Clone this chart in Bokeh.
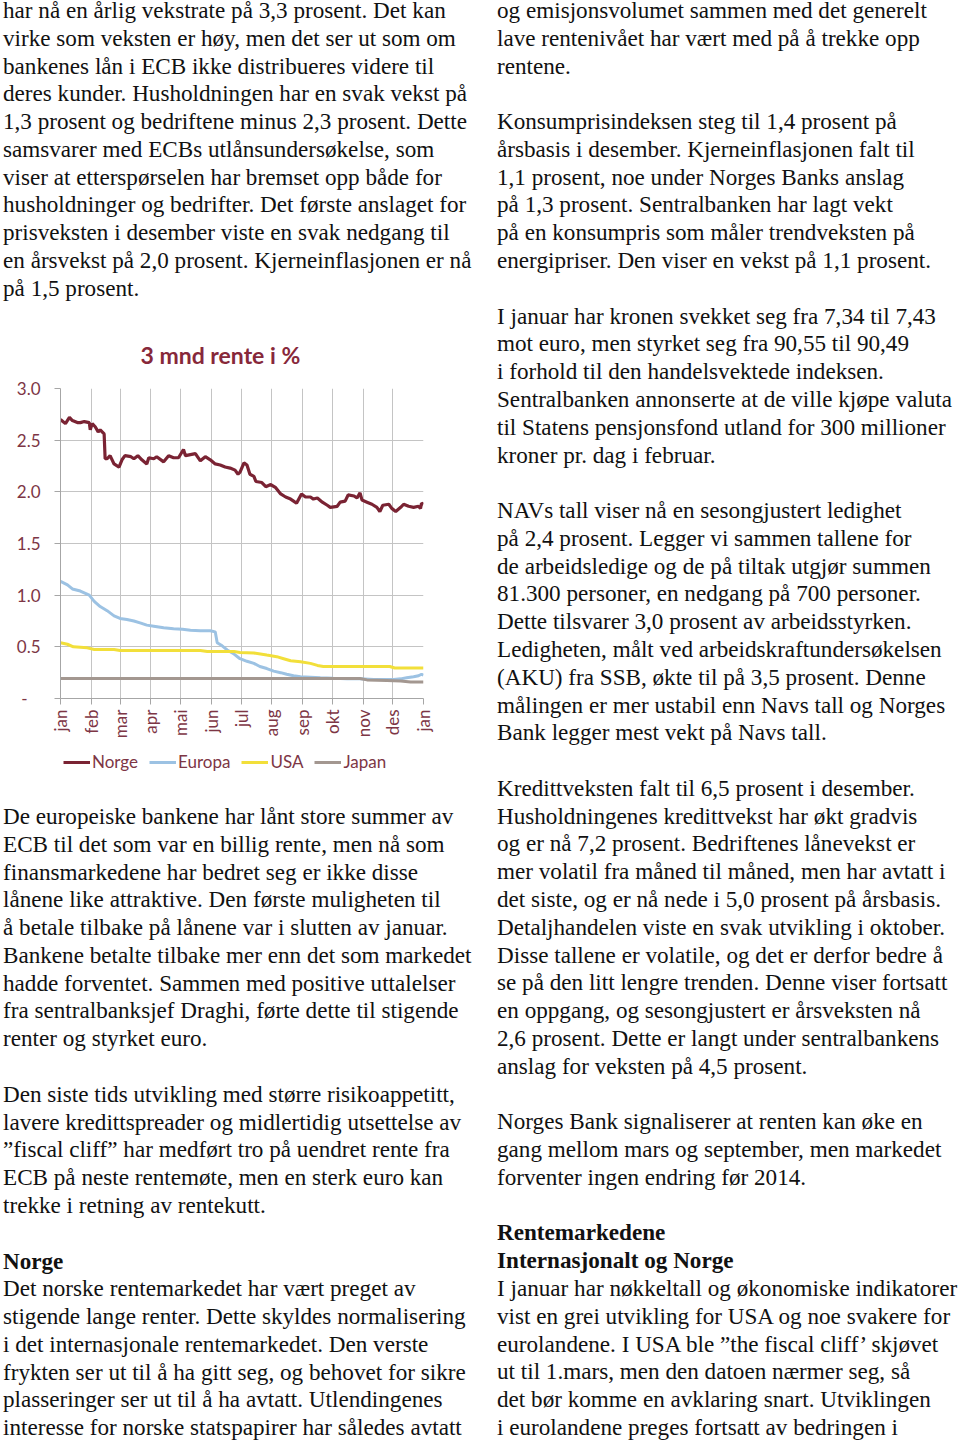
from html import escape
from bokeh.plotting import figure
from bokeh.models import Range1d, FixedTicker, Legend, LegendItem, Div, NumeralTickFormatter
from bokeh.layouts import column, row
from bokeh.embed import file_html
from bokeh.resources import INLINE

# ---------------- chart data ----------------
month_labels = ["jan", "feb", "mar", "apr", "mai", "jun", "jul", "aug", "sep", "okt", "nov", "des", "jan"]
month_days = [0, 31, 60, 91, 121, 152, 182, 213, 244, 274, 305, 335, 366]
y_ticks = [0, 0.5, 1.0, 1.5, 2.0, 2.5, 3.0]

norge_day = [0, 5, 9, 12, 17, 20, 24, 29, 30, 32, 35, 38, 40, 44, 45, 47, 50, 54, 59, 62,
             65, 71, 74, 78, 82, 87, 89, 94, 97, 104, 109, 114, 119, 124, 126, 131, 136, 141, 146, 151,
             156, 161, 166, 171, 176, 179, 181, 185, 188, 191, 195, 197, 203, 207, 212, 217, 222, 227, 232, 235,
             238, 243, 247, 252, 255, 259, 264, 269, 272, 279, 282, 287, 290, 296, 299, 302, 304, 309, 314, 319,
             322, 325, 331, 334, 338, 343, 346, 351, 356, 361, 363, 364, 366]
norge_val = [2.70, 2.66, 2.72, 2.69, 2.67, 2.67, 2.68, 2.67, 2.60, 2.66, 2.63, 2.58, 2.60, 2.56, 2.32, 2.32, 2.35, 2.27, 2.24, 2.31,
             2.35, 2.34, 2.32, 2.35, 2.31, 2.27, 2.33, 2.32, 2.34, 2.29, 2.35, 2.33, 2.33, 2.41, 2.35, 2.36, 2.37, 2.30, 2.34, 2.31,
             2.27, 2.26, 2.24, 2.23, 2.21, 2.17, 2.19, 2.28, 2.26, 2.17, 2.15, 2.10, 2.09, 2.05, 2.07, 2.04, 1.98, 1.95, 1.93, 1.91,
             1.89, 1.98, 1.95, 1.95, 1.93, 1.94, 1.90, 1.87, 1.85, 1.86, 1.90, 1.91, 1.97, 1.96, 1.94, 1.99, 1.92, 1.90, 1.88, 1.85,
             1.81, 1.87, 1.88, 1.84, 1.81, 1.85, 1.88, 1.86, 1.85, 1.86, 1.84, 1.89, 1.88]

europa_day = [0, 7, 12, 20, 29, 34, 40, 47, 54, 60, 67, 74, 81, 87, 94, 104, 114, 123, 131, 141,
              151, 156, 158, 163, 168, 175, 181, 188, 195, 201, 208, 215, 222, 228, 235, 242, 252, 262, 275, 289,
              302, 316, 329, 336, 343, 349, 356, 361, 364, 366]
europa_val = [1.135, 1.10, 1.06, 1.04, 1.00, 0.94, 0.89, 0.85, 0.80, 0.775, 0.765, 0.75, 0.73, 0.71, 0.70, 0.685, 0.675, 0.67, 0.66, 0.655,
              0.655, 0.645, 0.54, 0.51, 0.47, 0.43, 0.385, 0.36, 0.34, 0.31, 0.29, 0.265, 0.25, 0.235, 0.22, 0.21, 0.205, 0.20, 0.195, 0.19,
              0.19, 0.185, 0.183, 0.183, 0.19, 0.20, 0.21, 0.22, 0.235, 0.225]

usa_day = [0, 7, 13, 27, 34, 54, 60, 91, 141, 148, 175, 181, 195, 208, 218, 225, 232, 242, 252, 259,
           265, 275, 302, 332, 337, 366]
usa_val = [0.54, 0.525, 0.50, 0.49, 0.475, 0.475, 0.465, 0.465, 0.465, 0.455, 0.455, 0.445, 0.44, 0.42, 0.405, 0.385, 0.365, 0.355, 0.34, 0.32,
           0.31, 0.31, 0.31, 0.31, 0.295, 0.295]

japan_day = [0, 302, 309, 329, 343, 353, 366]
japan_val = [0.193, 0.193, 0.18, 0.175, 0.17, 0.16, 0.16]

series_names = ["Norge", "Europa", "USA", "Japan"]
series_colors = ["#7a2333", "#9cc2e3", "#f2df3a", "#a39790"]
series_days = [norge_day, europa_day, usa_day, japan_day]
series_vals = [norge_val, europa_val, usa_val, japan_val]

# ---------------- text ----------------
left_top = [
    "har nå en årlig vekstrate på 3,3 prosent. Det kan",
    "virke som veksten er høy, men det ser ut som om",
    "bankenes lån i ECB ikke distribueres videre til",
    "deres kunder. Husholdningen har en svak vekst på",
    "1,3 prosent og bedriftene minus 2,3 prosent. Dette",
    "samsvarer med ECBs utlånsundersøkelse, som",
    "viser at etterspørselen har bremset opp både for",
    "husholdninger og bedrifter. Det første anslaget for",
    "prisveksten i desember viste en svak nedgang til",
    "en årsvekst på 2,0 prosent. Kjerneinflasjonen er nå",
    "på 1,5 prosent.",
]
left_bottom = [
    "De europeiske bankene har lånt store summer av",
    "ECB til det som var en billig rente, men nå som",
    "finansmarkedene har bedret seg er ikke disse",
    "lånene like attraktive. Den første muligheten til",
    "å betale tilbake på lånene var i slutten av januar.",
    "Bankene betalte tilbake mer enn det som markedet",
    "hadde forventet. Sammen med positive uttalelser",
    "fra sentralbanksjef Draghi, førte dette til stigende",
    "renter og styrket euro.",
    "",
    "Den siste tids utvikling med større risikoappetitt,",
    "lavere kredittspreader og midlertidig utsettelse av",
    "”fiscal cliff” har medført tro på uendret rente fra",
    "ECB på neste rentemøte, men en sterk euro kan",
    "trekke i retning av rentekutt.",
    "",
    "**Norge",
    "Det norske rentemarkedet har vært preget av",
    "stigende lange renter. Dette skyldes normalisering",
    "i det internasjonale rentemarkedet. Den verste",
    "frykten ser ut til å ha gitt seg, og behovet for sikre",
    "plasseringer ser ut til å ha avtatt. Utlendingenes",
    "interesse for norske statspapirer har således avtatt",
]
right_lines = [
    "og emisjonsvolumet sammen med det generelt",
    "lave rentenivået har vært med på å trekke opp",
    "rentene.",
    "",
    "Konsumprisindeksen steg til 1,4 prosent på",
    "årsbasis i desember. Kjerneinflasjonen falt til",
    "1,1 prosent, noe under Norges Banks anslag",
    "på 1,3 prosent. Sentralbanken har lagt vekt",
    "på en konsumpris som måler trendveksten på",
    "energipriser. Den viser en vekst på 1,1 prosent.",
    "",
    "I januar har kronen svekket seg fra 7,34 til 7,43",
    "mot euro, men styrket seg fra 90,55 til 90,49",
    "i forhold til den handelsvektede indeksen.",
    "Sentralbanken annonserte at de ville kjøpe valuta",
    "til Statens pensjonsfond utland for 300 millioner",
    "kroner pr. dag i februar.",
    "",
    "NAVs tall viser nå en sesongjustert ledighet",
    "på 2,4 prosent. Legger vi sammen tallene for",
    "de arbeidsledige og de på tiltak utgjør summen",
    "81.300 personer, en nedgang på 700 personer.",
    "Dette tilsvarer 3,0 prosent av arbeidsstyrken.",
    "Ledigheten, målt ved arbeidskraftundersøkelsen",
    "(AKU) fra SSB, økte til på 3,5 prosent. Denne",
    "målingen er mer ustabil enn Navs tall og Norges",
    "Bank legger mest vekt på Navs tall.",
    "",
    "Kredittveksten falt til 6,5 prosent i desember.",
    "Husholdningenes kredittvekst har økt gradvis",
    "og er nå 7,2 prosent. Bedriftenes lånevekst er",
    "mer volatil fra måned til måned, men har avtatt i",
    "det siste, og er nå nede i 5,0 prosent på årsbasis.",
    "Detaljhandelen viste en svak utvikling i oktober.",
    "Disse tallene er volatile, og det er derfor bedre å",
    "se på den litt lengre trenden. Denne viser fortsatt",
    "en oppgang, og sesongjustert er årsveksten nå",
    "2,6 prosent. Dette er langt under sentralbankens",
    "anslag for veksten på 4,5 prosent.",
    "",
    "Norges Bank signaliserer at renten kan øke en",
    "gang mellom mars og september, men markedet",
    "forventer ingen endring før 2014.",
    "",
    "**Rentemarkedene",
    "**Internasjonalt og Norge",
    "I januar har nøkkeltall og økonomiske indikatorer",
    "vist en grei utvikling for USA og noe svakere for",
    "eurolandene. I USA ble ”the fiscal cliff’ skjøvet",
    "ut til 1.mars, men den datoen nærmer seg, så",
    "det bør komme en avklaring snart. Utviklingen",
    "i eurolandene preges fortsatt av bedringen i",
]

LH = 27.78
FS = 23.15


def text_div(lines, width, height):
    parts = []
    for ln in lines:
        if ln == "":
            parts.append("&nbsp;")
        elif ln.startswith("**"):
            parts.append("<b>" + escape(ln[2:]) + "</b>")
        else:
            parts.append(escape(ln))
    inner = "<br>".join(parts)
    html = ('<div style="font-family:\'Liberation Serif\',\'Times New Roman\',serif;'
            f'font-size:{FS}px;line-height:{LH}px;white-space:nowrap;color:#111;margin:0;padding:0">'
            + inner + '</div>')
    return Div(text=html, width=width, height=height, margin=0)


LEFT_W = 494
RIGHT_W = 462

# ---------------- chart ----------------
label_color = "#7d3645"
title_color = "#87283a"
font = "Lato"

p = figure(width=LEFT_W, height=442, output_backend="svg", toolbar_location=None,
           x_range=Range1d(0, 366), y_range=Range1d(0, 3.0),
           min_border_left=57, min_border_right=LEFT_W - 57 - 363,
           min_border_top=85, min_border_bottom=47, margin=0)
p.outline_line_color = None
p.background_fill_color = "white"
p.border_fill_color = "white"

p.title.text = "3 mnd rente i %"
p.title.align = "left"
p.title.offset = 80
p.title.text_font = font
p.title.text_font_style = "bold"
p.title.text_font_size = "23px"
p.title.text_color = title_color
p.title.standoff = 40

p.xaxis.ticker = FixedTicker(ticks=month_days)
p.xaxis.major_label_overrides = {d: m for d, m in zip(month_days, month_labels)}
p.xaxis.major_label_orientation = 1.5707963267948966
p.yaxis.ticker = FixedTicker(ticks=y_ticks)
p.yaxis.formatter = NumeralTickFormatter(format="0.0")
p.yaxis.major_label_overrides = {0: "-\u00a0\u00a0\u00a0"}

for ax in (p.xaxis[0], p.yaxis[0]):
    ax.axis_line_color = "#a6a6a6"
    ax.axis_line_width = 1
    ax.major_tick_line_color = "#a6a6a6"
    ax.major_tick_in = 0
    ax.major_tick_out = 6
    ax.minor_tick_line_color = None
    ax.major_label_text_font = font
    ax.major_label_text_font_size = "17px"
    ax.major_label_text_color = label_color
p.yaxis.major_label_standoff = 14
p.xaxis.major_label_standoff = 5

p.xgrid.grid_line_color = "#c4c4c4"
p.ygrid.grid_line_color = "#c4c4c4"
p.xgrid.grid_line_width = 1
p.ygrid.grid_line_width = 1

widths = [3.2, 3, 3, 3]
for d, v, c, w in zip(series_days, series_vals, series_colors, widths):
    p.line(d, v, line_color=c, line_width=w)

# ---------------- legend strip (its own small figure, same series out of view) ----------------
lg = figure(width=LEFT_W, height=58, output_backend="svg", toolbar_location=None,
            x_range=Range1d(0, 366), y_range=Range1d(10, 11),
            x_axis_type=None, y_axis_type=None,
            min_border_left=0, min_border_right=0, min_border_top=0, min_border_bottom=0, margin=0)
lg.outline_line_color = None
lg.grid.visible = False
lg.background_fill_color = "white"
lg.border_fill_color = "white"
key_renderers = [lg.line(d, v, line_color=c, line_width=3)
                 for d, v, c in zip(series_days, series_vals, series_colors)]
legend = Legend(items=[LegendItem(label=n, renderers=[r]) for n, r in zip(series_names, key_renderers)],
                orientation="horizontal", location=(3, 31),
                padding=0, margin=0, spacing=11, glyph_width=27, glyph_height=20,
                label_standoff=2, label_height=20,
                label_text_font=font, label_text_font_size="17px", label_text_color=label_color,
                border_line_color=None, background_fill_alpha=0)
lg.add_layout(legend)

left_col = column(text_div(left_top, LEFT_W, 306), p, lg, text_div(left_bottom, LEFT_W, 639),
                  width=LEFT_W, margin=0)
right_col = text_div(right_lines, RIGHT_W, 1445)
root = row(left_col, right_col, margin=(-3, 0, -10, 3))

open("out.html", "w").write(file_html(root, INLINE))
